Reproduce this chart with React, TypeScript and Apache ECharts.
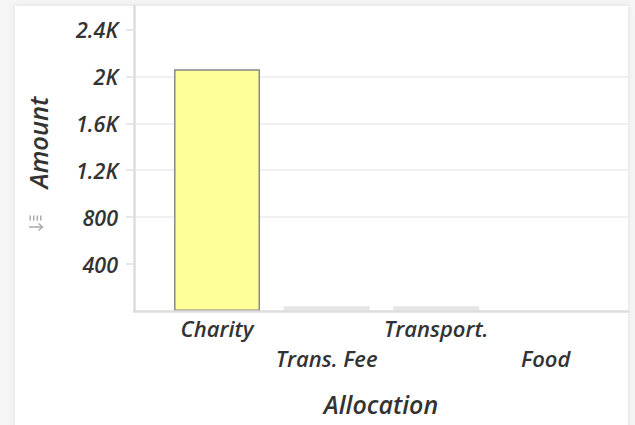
import React, { useEffect, useRef } from "react";
import * as echarts from "echarts";

const categories = ["Charity", "Trans. Fee", "Transport.", "Food"];
const amounts = [2060, 40, 40, 0];
const yTickValues = [400, 800, 1200, 1600, 2000, 2400];
const yMin = 0;
const yMax = 2600;
const yInterval = 400;
const xTitle = "Allocation";
const yTitle = "Amount";

const FONT = "'Open Sans', 'Noto Sans', sans-serif";
const TEXT = "#333333";

function fmt(v: number): string {
  return v >= 1000 ? `${+(v / 1000).toFixed(1)}K` : `${v}`;
}

export default function App() {
  const ref = useRef<HTMLDivElement>(null);
  useEffect(() => {
    if (!ref.current) return;
    const chart = echarts.init(ref.current, null, { renderer: "svg" });
    const labelBase = {
      fontFamily: FONT,
      fontStyle: "italic" as const,
      fontWeight: 600,
      color: TEXT,
    };
    chart.setOption({
      animation: false,
      backgroundColor: "transparent",
      grid: [
        { left: 134, right: 7, top: 6, bottom: 114 },
        { left: 162.25, right: 34.5, top: 6, bottom: 114 },
      ],
      xAxis: [
        {
          gridIndex: 0,
          type: "value",
          min: 0,
          max: 1,
          axisLabel: { show: false },
          axisTick: { show: false },
          splitLine: { show: false },
          axisLine: { show: true, lineStyle: { color: "#dddddd", width: 2.5 } },
          name: xTitle,
          nameLocation: "middle",
          nameGap: 78,
          nameTextStyle: { ...labelBase, fontSize: 25, lineHeight: 30 },
          z: 5,
        },
        {
          gridIndex: 1,
          type: "category",
          data: categories,
          axisLine: { show: false },
          axisTick: { show: false },
          axisLabel: {
            ...labelBase,
            fontSize: 22,
            lineHeight: 30,
            margin: 2,
            interval: 0,
            formatter: (v: string, i: number) => (i % 2 === 1 ? "\n" + v : v),
          },
        },
      ],
      yAxis: [
        {
          gridIndex: 0,
          type: "value",
          min: yMin,
          max: yMax,
          interval: yInterval,
          axisLine: { show: true, lineStyle: { color: "#dddddd", width: 2.5 } },
          axisTick: {
            show: true,
            length: 8,
            customValues: yTickValues,
            lineStyle: { color: "#e6e6e6", width: 2 },
          },
          axisLabel: {
            ...labelBase,
            fontSize: 21.5,
            margin: 16,
            customValues: yTickValues,
            formatter: (v: number) => fmt(v),
          },
          splitLine: {
            show: true,
            showMinLine: false,
            showMaxLine: false,
            lineStyle: { color: "#f0f0f0", width: 2 },
          },
        },
        {
          gridIndex: 1,
          type: "value",
          min: yMin,
          max: yMax,
          interval: yInterval,
          show: false,
        },
      ],
      series: [
        {
          type: "bar",
          xAxisIndex: 1,
          yAxisIndex: 1,
          barWidth: 86,
          data: amounts.map((v, i) => ({
            value: v,
            itemStyle:
              i === 0
                ? { color: "#ffff99", borderColor: "#888888", borderWidth: 1.5 }
                : { color: "#e6e6e6" },
          })),
          z: 3,
        },
      ],
      graphic: [
        {
          type: "text",
          x: 38,
          y: 142.5,
          rotation: Math.PI / 2,
          style: {
            text: yTitle,
            ...labelBase,
            fill: TEXT,
            fontSize: 25.5,
            align: "center",
            verticalAlign: "middle",
          },
        },
        {
          type: "group",
          children: [
            ...[29.5, 33, 36.5, 40].map((x) => ({
              type: "rect",
              shape: { x, y: 215.5, width: 1.5, height: 5 },
              style: { fill: "#aaaaaa" },
            })),
            {
              type: "line",
              shape: { x1: 29, y1: 227, x2: 42, y2: 227 },
              style: { stroke: "#aaaaaa", lineWidth: 1.5 },
            },
            {
              type: "polyline",
              shape: { points: [[38.5, 223.5], [42.5, 227], [38.5, 230.5]] },
              style: { stroke: "#aaaaaa", lineWidth: 1.5, fill: "none" },
            },
          ],
        },
      ],
    });
    return () => chart.dispose();
  }, []);

  return (
    <div
      style={{
        position: "absolute",
        left: 0,
        top: 0,
        width: 635,
        height: 425,
        background: "#f5f5f5",
        overflow: "hidden",
      }}
    >
      <div
        style={{
          position: "absolute",
          left: 15,
          top: 6,
          width: 613,
          height: 440,
          background: "#ffffff",
          boxShadow: "0 0 5px rgba(0,0,0,0.10)",
        }}
      />
      <div
        ref={ref}
        style={{ position: "absolute", left: 0, top: 0, width: 635, height: 425 }}
      />
    </div>
  );
}
